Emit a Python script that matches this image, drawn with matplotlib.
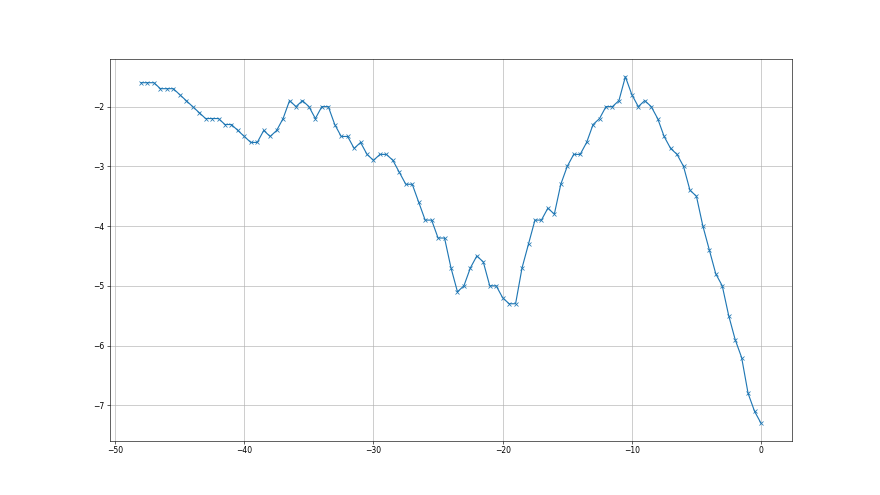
import matplotlib
matplotlib.use("Agg")
import matplotlib.pyplot as plt
import numpy as np

# x runs from -48 to 0 in steps of 0.5
x_start, x_stop, x_step = -48.0, 0.0, 0.5
values = [
    -1.6, -1.6, -1.6, -1.7, -1.7, -1.7, -1.8, -1.9, -2.0, -2.1,
    -2.2, -2.2, -2.2, -2.3, -2.3, -2.4, -2.5, -2.6, -2.6, -2.4,
    -2.5, -2.4, -2.2, -1.9, -2.0, -1.9, -2.0, -2.2, -2.0, -2.0,
    -2.3, -2.5, -2.5, -2.7, -2.6, -2.8, -2.9, -2.8, -2.8, -2.9,
    -3.1, -3.3, -3.3, -3.6, -3.9, -3.9, -4.2, -4.2, -4.7, -5.1,
    -5.0, -4.7, -4.5, -4.6, -5.0, -5.0, -5.2, -5.3, -5.3, -4.7,
    -4.3, -3.9, -3.9, -3.7, -3.8, -3.3, -3.0, -2.8, -2.8, -2.6,
    -2.3, -2.2, -2.0, -2.0, -1.9, -1.5, -1.8, -2.0, -1.9, -2.0,
    -2.2, -2.5, -2.7, -2.8, -3.0, -3.4, -3.5, -4.0, -4.4, -4.8,
    -5.0, -5.5, -5.9, -6.2, -6.8, -7.1, -7.3,
]
xs = np.arange(x_start, x_stop + x_step / 2, x_step)

fig, ax = plt.subplots(figsize=(16, 9), dpi=55)
ax.plot(xs, values, marker="x", color="#1f77b4")
ax.grid(True)
fig.savefig("out.png", dpi=55)
